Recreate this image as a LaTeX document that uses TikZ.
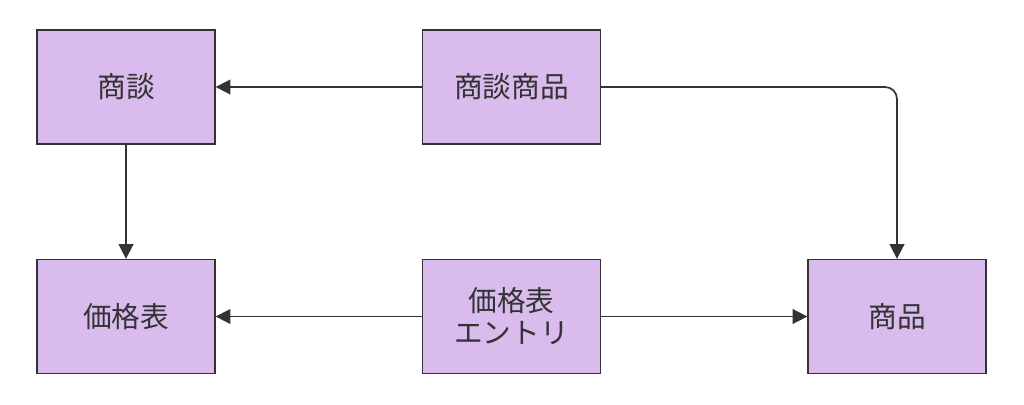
\documentclass[tikz,border=0pt]{standalone}
\usepackage{fontspec}
\setmainfont{Noto Sans CJK JP}
\usetikzlibrary{arrows.meta}
\definecolor{boxfill}{HTML}{D9BBEE}
\definecolor{edge}{HTML}{333333}
\begin{document}
\begin{tikzpicture}[x=0.75pt,y=-0.75pt,
  entity/.style={draw=edge,fill=boxfill,line width=1pt,minimum width=133.5pt,minimum height=85.5pt,inner sep=0pt,align=center,font=\fontsize{21.5}{24}\selectfont,text=black!80},
  conn/.style={draw=edge,line width=1.3pt,-{Triangle[length=11pt,width=11pt]}}]
\useasboundingbox (0,0) rectangle (1024,404);
\node[entity] (shodan) at (126,87) {商談};
\node[entity] (shodanshohin) at (511.5,87) {商談商品};
\node[entity] (kakaku) at (126,316.5) {価格表};
\node[entity] (entry) at (511.5,316.5) {価格表\\エントリ};
\node[entity] (shohin) at (897,316.5) {商品};
\draw[conn] (shodanshohin.west) -- (shodan.east);
\draw[conn] (shodan.south) -- (kakaku.north);
\draw[conn] (entry.west) -- (kakaku.east);
\draw[conn] (entry.east) -- (shohin.west);
\draw[conn,rounded corners=9pt] (shodanshohin.east) -| (shohin.north);
\end{tikzpicture}
\end{document}
